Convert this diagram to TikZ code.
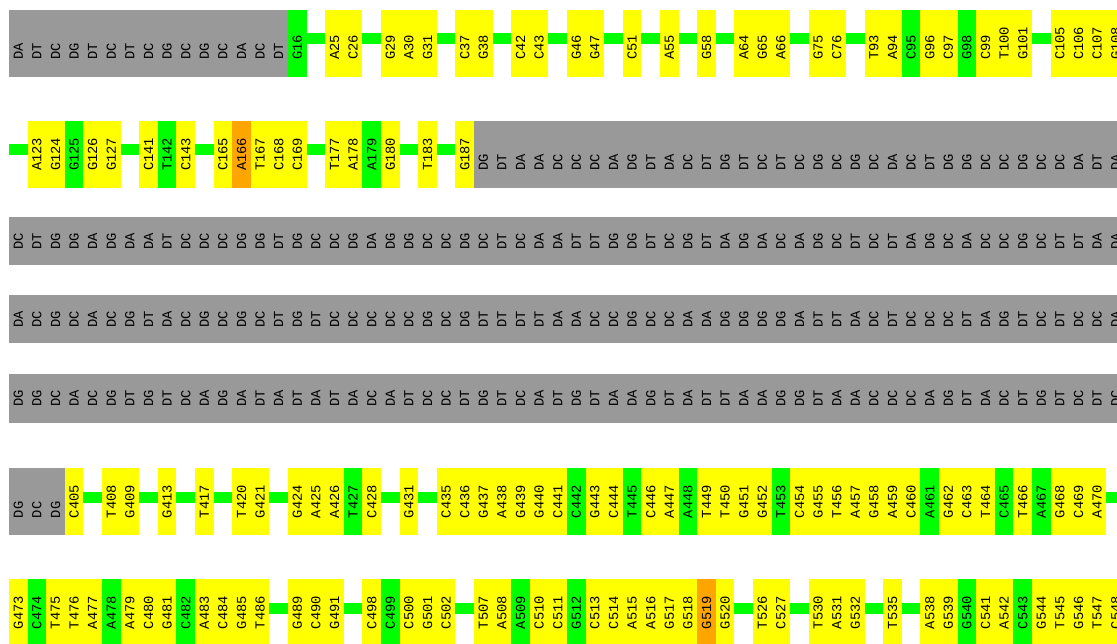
\documentclass[tikz,border=0pt]{standalone}
\usepackage{fontspec}
\newfontfamily\monofam{Liberation Mono}
\definecolor{cY}{HTML}{FFFF00}
\definecolor{cG}{HTML}{00FF00}
\definecolor{cO}{HTML}{FFA500}
\definecolor{cK}{HTML}{999999}
\tikzset{
  cellbox/.style={rectangle, inner sep=0pt, outer sep=0pt, minimum width=18.7pt, draw=none},
  lbl/.style={rotate=90, anchor=west, inner sep=0pt, outer sep=0pt, font=\monofam\fontsize{13.8}{14}\selectfont, text=black},
  bar/.style={draw=cG, line width=11pt}
}
% #1 row id, #2 top, #3 height, #4 text offset, #5 list i/colour/label
\newcommand\seqrow[5]{%
  \foreach \i/\c/\t in {#5} {
    \node[cellbox, fill=\c, minimum height=#3pt] (r#1c\i) at ({9+18.6*\i+9.3}, {#2+#3/2}) {};
    \node[lbl] (r#1t\i) at ([yshift=#4pt]r#1c\i.south) {\t};
  }}
% #1 row id, #2 top, #3 height, #4 text offset, #5 first index, #6 labels
\newcommand\grayseg[6]{%
  \foreach \t [count=\i from #5] in {#6} {
    \node[cellbox, fill=cK, minimum height=#3pt] (r#1c\i) at ({9+18.6*\i+9.3}, {#2+#3/2}) {};
    \node[lbl] (r#1t\i) at ([yshift=#4pt]r#1c\i.south) {\t};
  }}
% #1 row id, #2 list of gap cells
\newcommand\gapbars[2]{%
  \foreach \g in {#2} {
    \pgfmathtruncatemacro\ga{\g-1}\pgfmathtruncatemacro\gb{\g+1}
    \draw[bar] ([yshift=-29pt]r#1c\ga.north east) -- ([yshift=-29pt]r#1c\gb.north west);
  }}
\begin{document}
\begin{tikzpicture}[x=1pt,y=-1pt]
\useasboundingbox (0,0) rectangle (1117,644);
\clip (0,0) rectangle (1117,644);

% ---------- row 1 ----------
\grayseg{1}{10}{67}{17}{0}{DA,DT,DC,DG,DT,DC,DT,DC,DG,DC,DG,DC,DA,DC,DT}
\seqrow{1}{10}{67}{17}{15/cG/G16,17/cY/A25,18/cY/C26,20/cY/G29,21/cY/A30,22/cY/G31,24/cY/C37,25/cY/G38,27/cY/C42,28/cY/C43,30/cY/G46,31/cY/G47,33/cY/C51,35/cY/A55,37/cY/G58,39/cY/A64,40/cY/G65,41/cY/A66,43/cY/G75,44/cY/C76,46/cY/T93,47/cY/A94,48/cG/C95,49/cY/G96,50/cY/C97,51/cG/G98,52/cY/C99,53/cY/T100,54/cY/G101,56/cY/C105,57/cY/C106,58/cY/C107,59/cY/G108}
\gapbars{1}{16,19,23,26,29,32,34,36,38,42,45,55}

% ---------- row 2 ----------
\seqrow{2}{121}{67}{17}{1/cY/A123,2/cY/G124,3/cG/G125,4/cY/G126,5/cY/G127,7/cY/C141,8/cG/T142,9/cY/C143,11/cY/C165,12/cO/A166,13/cY/T167,14/cY/C168,15/cY/C169,17/cY/T177,18/cY/A178,19/cG/A179,20/cY/G180,22/cY/T183,24/cY/G187}
\grayseg{2}{121}{67}{17}{25}{DG,DT,DA,DA,DC,DC,DC,DA,DG,DT,DA,DC,DT,DG,DT,DC,DT,DC,DG,DC,DG,DC,DA,DC,DT,DG,DG,DC,DC,DG,DC,DC,DA,DT,DA}
\gapbars{2}{6,10,16,21,23}
\coordinate (r2s) at (9,150);
\draw[bar] (r2s) -- ([yshift=-29pt]r2c1.north west);

% ---------- rows 3-5 ----------
\grayseg{3}{217}{48.5}{16}{0}{DC,DT,DG,DG,DA,DG,DA,DA,DT,DC,DC,DC,DG,DG,DT,DG,DC,DC,DG,DA,DG,DG,DC,DC,DG,DC,DT,DC,DA,DA,DT,DT,DG,DG,DT,DC,DG,DT,DA,DG,DA,DC,DA,DG,DC,DT,DC,DT,DA,DG,DC,DA,DC,DC,DG,DC,DT,DT,DA,DA}
\grayseg{4}{295}{48.5}{16}{0}{DA,DC,DG,DC,DA,DC,DG,DT,DA,DC,DG,DC,DG,DC,DT,DG,DT,DC,DC,DC,DC,DC,DG,DC,DG,DT,DT,DT,DT,DA,DA,DC,DC,DG,DC,DC,DA,DA,DG,DG,DG,DG,DA,DT,DT,DA,DC,DT,DC,DC,DC,DT,DA,DG,DT,DC,DT,DC,DC,DA}
\grayseg{5}{374}{48.5}{16}{0}{DG,DG,DC,DA,DC,DG,DT,DG,DT,DC,DA,DG,DA,DT,DA,DT,DA,DT,DA,DC,DA,DT,DC,DC,DT,DG,DT,DC,DA,DT,DG,DT,DA,DA,DG,DT,DA,DT,DT,DA,DA,DG,DG,DT,DA,DA,DC,DC,DC,DA,DG,DT,DA,DC,DT,DG,DT,DC,DT,DC}

% ---------- row 6 ----------
\grayseg{6}{468}{67}{17}{0}{DG,DC,DG}
\seqrow{6}{468}{67}{17}{3/cY/C405,5/cY/T408,6/cY/G409,8/cY/G413,10/cY/T417,12/cY/T420,13/cY/G421,15/cY/G424,16/cY/A425,17/cY/A426,18/cG/T427,19/cY/C428,21/cY/G431,23/cY/C435,24/cY/C436,25/cY/G437,26/cY/A438,27/cY/G439,28/cY/G440,29/cY/C441,30/cG/C442,31/cY/G443,32/cY/C444,33/cG/T445,34/cY/C446,35/cY/A447,36/cG/A448,37/cY/T449,38/cY/T450,39/cY/G451,40/cY/G452,41/cG/T453,42/cY/C454,43/cY/G455,44/cY/T456,45/cY/A457,46/cY/G458,47/cY/A459,48/cY/C460,49/cG/A461,50/cY/G462,51/cY/C463,52/cY/T464,53/cG/C465,54/cY/T466,55/cG/A467,56/cY/G468,57/cY/C469,58/cY/A470}
\gapbars{6}{4,7,9,11,14,20,22}
\coordinate (r6e) at (1126,497);
\draw[bar] ([yshift=-29pt]r6c58.north east) -- (r6e);

% ---------- row 7 ----------
\seqrow{7}{579}{67}{17}{0/cY/G473,1/cG/C474,2/cY/T475,3/cY/T476,4/cY/A477,5/cG/A478,6/cY/A479,7/cY/C480,8/cY/G481,9/cG/C482,10/cY/A483,11/cY/C484,12/cY/G485,13/cY/T486,15/cY/G489,16/cY/C490,17/cY/G491,19/cY/C498,20/cG/C499,21/cY/C500,22/cY/G501,23/cY/C502,25/cY/T507,26/cY/A508,27/cG/A509,28/cY/C510,29/cY/C511,30/cG/G512,31/cY/C513,32/cY/C514,33/cY/A515,34/cY/A516,35/cY/G517,36/cY/G518,37/cO/G519,38/cY/G520,40/cY/T526,41/cY/C527,43/cY/T530,44/cY/A531,45/cY/G532,47/cY/T535,49/cY/A538,50/cY/G539,51/cG/G540,52/cY/C541,53/cY/A542,54/cG/C543,55/cY/G544,56/cY/T545,57/cY/G546,58/cY/T547,59/cY/C548}
\gapbars{7}{14,18,24,39,42,46,48}
\end{tikzpicture}
\end{document}
